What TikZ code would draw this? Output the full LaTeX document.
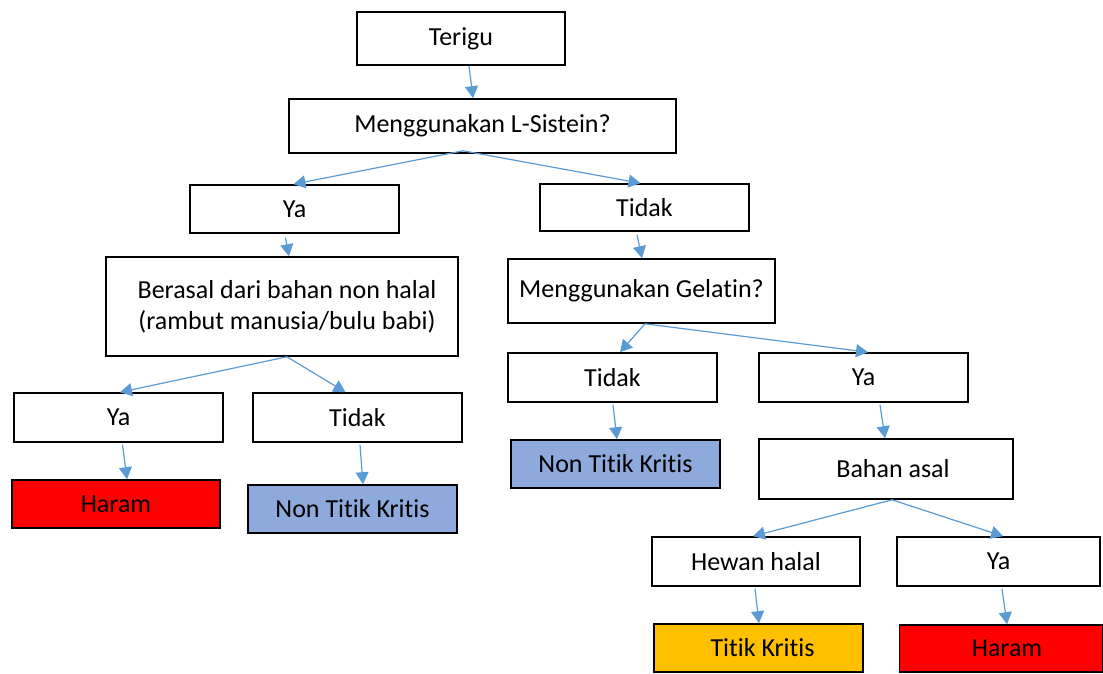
\documentclass[tikz,border=0pt]{standalone}
\usepackage{fontspec}
\setmainfont{Carlito}[Ligatures={NoCommon}]
\usetikzlibrary{arrows.meta}
\definecolor{arrblue}{HTML}{5B9BD5}
\definecolor{ntkblue}{HTML}{8EA9DB}
\definecolor{tkorange}{HTML}{FFC000}
\definecolor{haramred}{HTML}{FF0000}
\tikzset{
  box/.style={draw=black, line width=1.6pt, inner sep=0pt, fill=white,
    font=\fontsize{26}{31}\selectfont, align=center},
  arr/.style={draw=arrblue, line width=1.2pt, -{Triangle[length=12pt,width=13pt]}}
}
\begin{document}
\begin{tikzpicture}[x=1pt,y=-1pt]
\useasboundingbox (0,0) rectangle (1103,673);
% nodes
\node[box, minimum width=208pt, minimum height=53pt] (ter) at (461,38.5) {Terigu};
\node[box, minimum width=387pt, minimum height=54pt] (ls) at (482.5,126) {\raisebox{-3pt}{Menggunakan L-Sistein?}};
\node[box, minimum width=209pt, minimum height=48pt] (ya1) at (294.5,209) {\raisebox{-2pt}{Ya}};
\node[box, minimum width=209pt, minimum height=47pt] (td1) at (644.5,207.5) {Tidak};
\node[box, minimum width=352pt, minimum height=99pt] (ber) at (282,306.5) {\hspace*{10pt}Berasal dari bahan non halal\\\hspace*{10pt}(rambut manusia/bulu babi)};
\node[box, minimum width=267pt, minimum height=64pt] (gel) at (641.5,291) {Menggunakan Gelatin?};
\node[box, minimum width=209pt, minimum height=49pt] (ya2) at (118.5,417.5) {\raisebox{-2pt}{Ya}};
\node[box, minimum width=209pt, minimum height=49pt] (td2) at (357.5,417.5) {\raisebox{-2pt}{Tidak}};
\node[box, minimum width=209pt, minimum height=49pt] (td3) at (612.5,377.5) {\raisebox{-2pt}{Tidak}};
\node[box, minimum width=209pt, minimum height=49pt] (ya3) at (863.5,377.5) {\raisebox{-2pt}{Ya}};
\node[box, fill=haramred, minimum width=208pt, minimum height=48pt] (har1) at (116,504) {\raisebox{-3pt}{Haram}};
\node[box, fill=ntkblue, minimum width=209pt, minimum height=48pt] (ntk1) at (352.5,509) {\raisebox{-2pt}{Non Titik Kritis}};
\node[box, fill=ntkblue, minimum width=209pt, minimum height=48pt] (ntk2) at (615.5,464) {Non Titik Kritis};
\node[box, minimum width=254pt, minimum height=60pt] (ba) at (886,469) {\hspace*{14pt}\raisebox{-2pt}{Bahan asal}};
\node[box, minimum width=208pt, minimum height=49pt] (hh) at (756,561.5) {\raisebox{-2pt}{Hewan halal}};
\node[box, minimum width=203pt, minimum height=49pt] (ya4) at (998.5,561.5) {\raisebox{-3pt}{Ya}};
\node[box, fill=tkorange, minimum width=209pt, minimum height=48pt] (tk) at (758.5,648) {\hspace*{8pt}\raisebox{-2pt}{Titik Kritis}};
\node[box, fill=haramred, minimum width=203pt, minimum height=47pt] (har2) at (1001,648.5) {\hspace*{12pt}Haram};
% connectors
\draw[arr] ([xshift=8pt]ter.south) -- ([xshift=-9.5pt]ls.north);
\draw[arr] ([xshift=-19.5pt,yshift=3pt]ls.south) -- ([xshift=-1pt]ya1.north);
\draw[arr] ([xshift=-19.5pt,yshift=3pt]ls.south) -- ([xshift=-4pt]td1.north);
\draw[arr] ([xshift=-9pt,yshift=-4pt]ya1.south) -- ([xshift=7pt]ber.north);
\draw[arr] ([xshift=5pt]ber.south) -- ([xshift=1.5pt]ya2.north);
\draw[arr] ([xshift=5pt]ber.south) -- ([xshift=-12pt]td2.north);
\draw[arr] ([xshift=4pt,yshift=-2pt]ya2.south) -- ([xshift=11pt]har1.north);
\draw[arr] ([xshift=2.5pt,yshift=-2pt]td2.south) -- ([xshift=10.5pt]ntk1.north);
\draw[arr] ([xshift=-7.5pt,yshift=-3pt]td1.south) -- ([xshift=0.5pt]gel.north);
\draw[arr] ([xshift=3.5pt]gel.south) -- ([xshift=7.5pt]td3.north);
\draw[arr] ([xshift=3.5pt]gel.south) -- ([xshift=4.5pt]ya3.north);
\draw[arr] ([xshift=0.5pt,yshift=-2pt]td3.south) -- ([xshift=1.5pt]ntk2.north);
\draw[arr] ([xshift=16.5pt,yshift=-2pt]ya3.south) -- ([xshift=-1pt]ba.north);
\draw[arr] ([xshift=6pt]ba.south) -- ([xshift=-3pt]hh.north);
\draw[arr] ([xshift=6pt]ba.south) -- ([xshift=4.5pt]ya4.north);
\draw[arr] ([xshift=-1pt,yshift=-2pt]hh.south) -- ([xshift=0.5pt]tk.north);
\draw[arr] ([xshift=3.5pt,yshift=-2pt]ya4.south) -- ([xshift=6pt]har2.north);
\end{tikzpicture}
\end{document}
